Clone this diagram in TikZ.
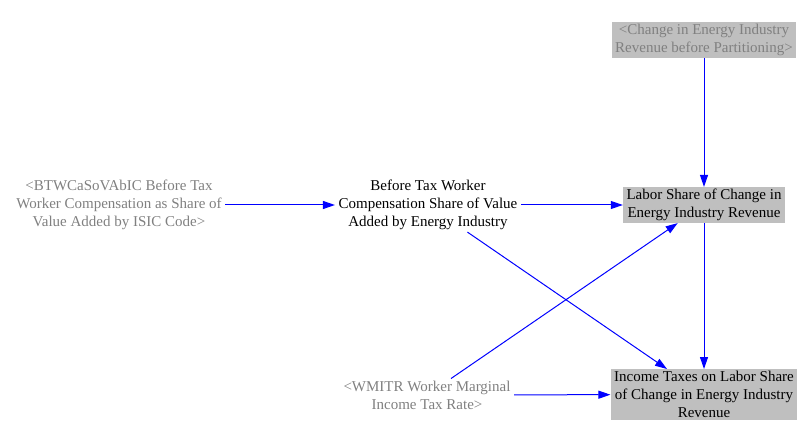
\documentclass[tikz,border=0pt]{standalone}
\usepackage{fontspec}
\setmainfont{Liberation Serif}
\usetikzlibrary{arrows.meta}

\begin{document}
\begin{tikzpicture}
  [x=1pt,y=-1pt,
   varN/.style={align=center,font=\fontsize{15}{18}\selectfont,inner xsep=3.5pt,inner ysep=2pt},
   shadowN/.style={varN,text=gray},
   boxN/.style={varN,fill=lightgray},
   link/.style={draw=blue,line width=1pt,-{Triangle[length=12pt,width=8pt]}}]

  \useasboundingbox (0,0) rectangle (810,438);

  \node[boxN,text=gray] (change) at (704,40) {<Change in Energy Industry\\Revenue before Partitioning>};
  \node[boxN] (labor) at (704,205) {Labor Share of Change in\\Energy Industry Revenue};
  \node[boxN] (income) at (704,394.5) {Income Taxes on Labor Share\\of Change in Energy Industry\\Revenue};
  \node[shadowN] (btwc) at (119,205) {<BTWCaSoVAbIC Before Tax\\Worker Compensation as Share of\\Value Added by ISIC Code>};
  \node[varN] (before) at (428,205) {Before Tax Worker\\Compensation Share of Value\\Added by Energy Industry};
  \node[shadowN] (wmitr) at (427,395) {<WMITR Worker Marginal\\Income Tax Rate>};

  \draw[link] (change) -- (labor);
  \draw[link] (btwc) -- (before);
  \draw[link] (before) -- (labor);
  \draw[link] (before) -- (income);
  \draw[link] (wmitr) -- (labor);
  \draw[link] (wmitr) -- (income);
  \draw[link] (labor) -- (income);

\end{tikzpicture}
\end{document}
